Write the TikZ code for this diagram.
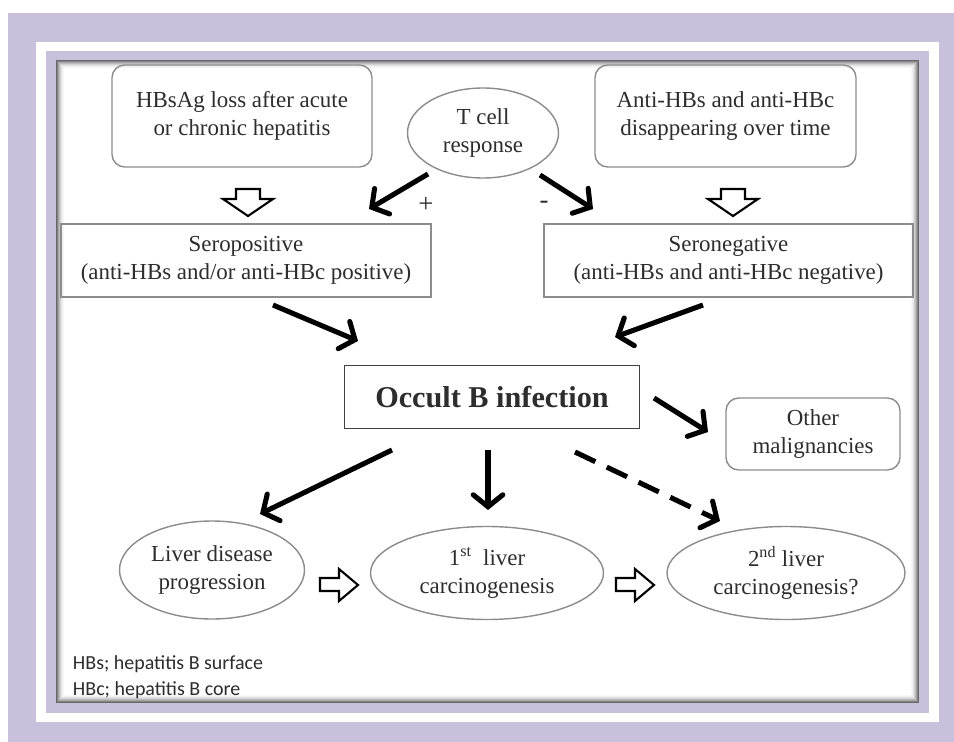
\documentclass[tikz,border=0pt]{standalone}
\usepackage{fontspec}
\setmainfont{Liberation Serif}
\newfontfamily\notefont{Carlito}
\usepackage{tikz}
\usetikzlibrary{arrows.meta}
\usetikzlibrary{shapes.geometric}
\definecolor{lilac}{RGB}{201,192,219}
\definecolor{boxline}{RGB}{140,140,140}
\definecolor{txt}{RGB}{45,45,45}
\begin{document}
\begin{tikzpicture}[x=0.025cm,y=-0.025cm,
    font=\fontsize{16.3}{19.5}\selectfont,text=txt,
    round box/.style={draw=boxline,line width=1pt,rounded corners=9pt,align=center,inner sep=0pt},
    plain box/.style={draw=boxline,line width=1pt,align=center,inner sep=0pt},
    oval node/.style={ellipse,draw=boxline,line width=1pt,align=center,inner sep=0pt},
    fat arrow/.style={-{Straight Barb[length=8.5pt,width=21pt,line cap=round]},line width=3.6pt,black},
    hollow/.style={draw=black,line width=1.5pt,fill=white,line join=miter}]
   \useasboundingbox (0,0) rectangle (954,742);
   % frame
   \fill[white] (0,0) rectangle (954,742);
   \fill[lilac] (8,13) rectangle (954,742);
   \fill[white] (36,42) rectangle (939,722);
   \fill[lilac] (46,51) rectangle (929,713);
   \fill[white] (56,60) rectangle (919,703);
   \foreach \i/\c in {0/60,1/48,2/36,3/26,4/18,5/11,6/6,7/3}
      \draw[black!\c,line width=0.75pt] (56.5+\i,60.5+\i) rectangle (918.5-\i,702.5-\i);

   % boxes
   \node[round box,minimum width=260*0.025cm,minimum height=102*0.025cm] (hbsag) at (242,116) {HBsAg loss after acute\\or chronic hepatitis};
   \node[oval node,minimum width=151*0.025cm,minimum height=90*0.025cm] (tcell) at (483,133) {T cell\\response};
   \node[round box,minimum width=261*0.025cm,minimum height=102*0.025cm] (antihb) at (725.5,116) {Anti-HBs and anti-HBc\\disappearing over time};
   \node[plain box,minimum width=370*0.025cm,minimum height=73*0.025cm] (seropos) at (246,260.5) {Seropositive\\(anti-HBs and/or anti-HBc positive)};
   \node[plain box,minimum width=369*0.025cm,minimum height=73*0.025cm] (seroneg) at (728.5,260.5) {Seronegative\\(anti-HBs and anti-HBc negative)};
   \node[plain box,draw=black!75,line width=1.3pt,minimum width=295*0.025cm,minimum height=63*0.025cm,font=\fontsize{21.5}{25}\selectfont\bfseries] (occult) at (492,397) {Occult B infection};
   \node[round box,minimum width=174*0.025cm,minimum height=72*0.025cm] (other) at (813,434) {Other\\malignancies};
   \node[oval node,minimum width=185*0.025cm,minimum height=98*0.025cm] (liverdis) at (212,570) {Liver disease\\progression};
   \node[oval node,minimum width=233*0.025cm,minimum height=93*0.025cm] (first) at (487,573) {1\textsuperscript{st}~ liver\\carcinogenesis};
   \node[oval node,minimum width=238*0.025cm,minimum height=93*0.025cm] (second) at (786,573) {2\textsuperscript{nd} liver\\carcinogenesis?};

   \node[font=\fontsize{19}{22}\selectfont] (plus) at (426,205) {+};
   \node[font=\fontsize{19}{22}\selectfont] (minus) at (544,205) {-};

   \node[anchor=west,font=\notefont\fontsize{14.2}{17}\selectfont] (note1) at (68,664) {HBs; hepatitis B surface};
   \node[anchor=west,font=\notefont\fontsize{14.2}{17}\selectfont] (note2) at (68,690) {HBc; hepatitis B core};

   % hollow block arrows
   \draw[hollow] (236,189)--(260,189)--(260,199)--(273,199)--(248,216)--(223,199)--(236,199)--cycle;
   \draw[hollow] (721,189)--(745,189)--(745,199)--(758,199)--(733,216)--(708,199)--(721,199)--cycle;
   \draw[hollow] (320,578)--(339,578)--(339,569)--(358,585)--(339,601)--(339,591)--(320,591)--cycle;
   \draw[hollow] (616,578)--(635,578)--(635,569)--(654,585)--(635,601)--(635,591)--(616,591)--cycle;

   % connector ends
   \coordinate (tcell-l) at (428,174);  \coordinate (seropos-t) at (369,209);
   \coordinate (tcell-r) at (540,175);  \coordinate (seroneg-t) at (593,209);
   \coordinate (seropos-b) at (273,305); \coordinate (occult-l) at (358,341);
   \coordinate (seroneg-b) at (703,305); \coordinate (occult-r) at (615,337);
   \coordinate (occult-e) at (654,398); \coordinate (other-w) at (708,432);
   \coordinate (occult-sw) at (392,450); \coordinate (liverdis-n) at (260,514);
   \coordinate (occult-s) at (488,450); \coordinate (first-n) at (488,510);
   \coordinate (occult-se) at (575,452); \coordinate (second-n) at (720,521);

   \draw[fat arrow] (tcell-l) -- (seropos-t);
   \draw[fat arrow] (tcell-r) -- (seroneg-t);
   \draw[fat arrow] (seropos-b) -- (occult-l);
   \draw[fat arrow] (seroneg-b) -- (occult-r);
   \draw[fat arrow] (occult-e) -- (other-w);
   \draw[fat arrow] (occult-sw) -- (liverdis-n);
   \draw[fat arrow] (occult-s) -- (first-n);
   \draw[fat arrow,dash pattern=on 16pt off 9pt] (occult-se) -- (second-n);
\end{tikzpicture}
\end{document}
